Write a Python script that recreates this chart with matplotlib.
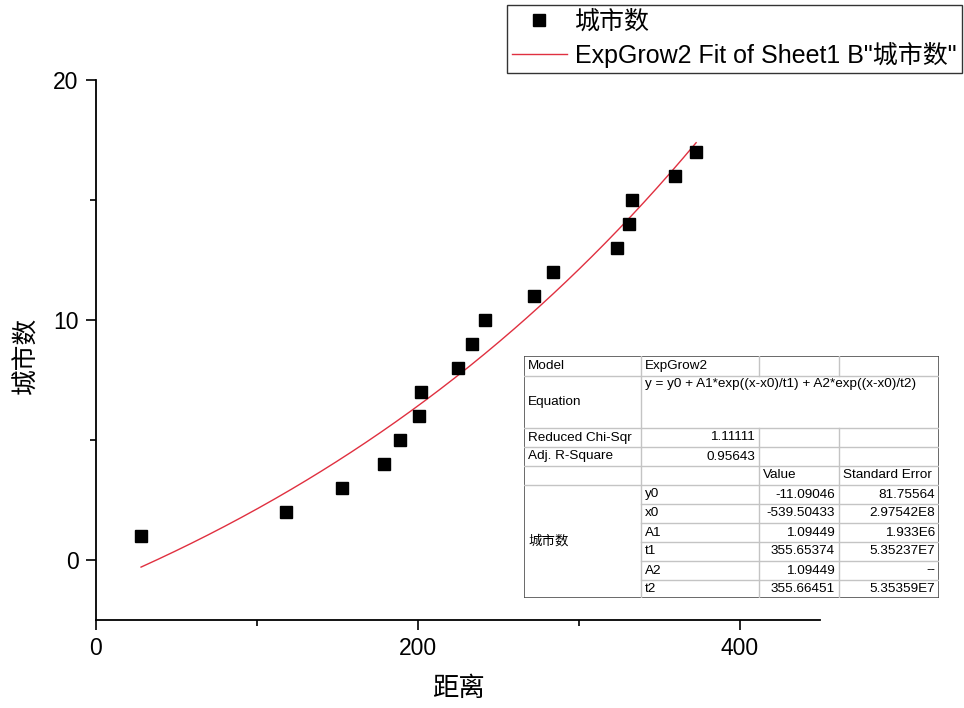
import numpy as np
import matplotlib
matplotlib.use("Agg")
import matplotlib.pyplot as plt
from matplotlib.ticker import MultipleLocator
from matplotlib.lines import Line2D

plt.rcParams["font.family"] = ["Liberation Sans", "Noto Sans CJK SC", "DejaVu Sans"]

# Distance vs. number of cities
distance = [28, 118, 153, 179, 189, 201, 202, 225, 234, 242,
            272, 284, 324, 331, 333, 360, 373]
city_count = [1, 2, 3, 4, 5, 6, 7, 8, 9, 10,
              11, 12, 13, 14, 15, 16, 17]

# ExpGrow2 fit results
param_names = ["y0", "x0", "A1", "t1", "A2", "t2"]
param_values = [-11.09046, -539.50433, 1.09449, 355.65374, 1.09449, 355.66451]
param_errors = ["81.75564", "2.97542E8", "1.933E6", "5.35237E7", "--", "5.35359E7"]
red_chi_sqr = "1.11111"
adj_r_square = "0.95643"
equation = "y = y0 + A1*exp((x-x0)/t1) + A2*exp((x-x0)/t2)"

x_label = "距离"
y_label = "城市数"
series_name = "城市数"
fit_name = 'ExpGrow2 Fit of Sheet1 B"城市数"'


def expgrow2(x, y0, x0, A1, t1, A2, t2):
    return y0 + A1 * np.exp((x - x0) / t1) + A2 * np.exp((x - x0) / t2)


fig = plt.figure(figsize=(9.64, 7.08), dpi=100)
W, H = 964, 708
ax = fig.add_axes([96 / W, 1 - 620 / H, 724 / W, 540 / H])

ax.plot(distance, city_count, "s", color="black", markersize=9, zorder=3)
xfit = np.linspace(min(distance), max(distance), 300)
ax.plot(xfit, expgrow2(xfit, *param_values), color="#e03040", linewidth=1.0)

ax.set_xlim(0, 450)
ax.set_ylim(-2.5, 20)
ax.xaxis.set_major_locator(MultipleLocator(200))
ax.xaxis.set_minor_locator(MultipleLocator(100))
ax.yaxis.set_major_locator(MultipleLocator(10))
ax.yaxis.set_minor_locator(MultipleLocator(5))
for side in ("top", "right"):
    ax.spines[side].set_visible(False)
for side in ("left", "bottom"):
    ax.spines[side].set_linewidth(1.3)
ax.tick_params(which="major", direction="out", length=7.5, width=1.2, labelsize=16.5, pad=5)
ax.tick_params(which="minor", direction="out", length=4.5, width=1.2)

ax.set_xlabel(x_label, fontsize=19)
ax.xaxis.set_label_coords(0.5, -0.105)
ax.set_ylabel(y_label, fontsize=18.5)
ax.yaxis.set_label_coords(-0.08, 0.49)

# Legend above the plot area
handles = [Line2D([], [], linestyle="none", marker="s", color="black", markersize=8),
           Line2D([], [], color="#e03040", linewidth=1.0)]
leg = fig.legend(handles, [series_name, fit_name], loc="upper right",
                 bbox_to_anchor=(962 / W, 1 - 5 / H), bbox_transform=fig.transFigure,
                 fontsize=18, frameon=True, fancybox=False, edgecolor="black",
                 handlelength=2.2, handletextpad=0.35, labelspacing=0.3,
                 borderpad=0.2, borderaxespad=0)
leg.get_frame().set_linewidth(1.0)

# Fit results table
col_edges = [0, 117, 235, 315, 415]
row_edges = [0, 20, 72, 91, 110, 129, 148, 167, 186, 205, 224, 242]
tab = fig.add_axes([524 / W, 1 - 598 / H, 415 / W, 242 / H])
tab.set_xlim(0, 415)
tab.set_ylim(242, 0)
tab.axis("off")
tab.add_patch(plt.Rectangle((0, 0), 415, 242, facecolor="white", edgecolor="none"))

grid_kw = dict(color="#c4c4c4", linewidth=1.0)
# horizontal lines
for i, y in enumerate(row_edges[1:-1], start=1):
    x_start = col_edges[1] if 6 <= i <= 10 else 0
    tab.plot([x_start, 415], [y, y], **grid_kw)
# vertical lines
tab.plot([col_edges[1]] * 2, [0, 242], **grid_kw)
for xc in col_edges[2:4]:
    tab.plot([xc, xc], [0, row_edges[1]], **grid_kw)
    tab.plot([xc, xc], [row_edges[2], 242], **grid_kw)
tab.add_patch(plt.Rectangle((0, 0), 415, 242, facecolor="none",
                            edgecolor="#505050", linewidth=1.2))

fs = 9.7


def cell_text(col, row, s, align="left"):
    yc = (row_edges[row] + row_edges[row + 1]) / 2
    if align == "left":
        tab.text(col_edges[col] + 4, yc, s, ha="left", va="center", fontsize=fs)
    else:
        tab.text(col_edges[col + 1] - 4, yc, s, ha="right", va="center", fontsize=fs)


cell_text(0, 0, "Model")
cell_text(1, 0, "ExpGrow2")
cell_text(0, 1, "Equation")
tab.text(col_edges[1] + 4, row_edges[1] + 8, equation, ha="left", va="center", fontsize=fs)
cell_text(0, 2, "Reduced Chi-Sqr")
cell_text(1, 2, red_chi_sqr, align="right")
cell_text(0, 3, "Adj. R-Square")
cell_text(1, 3, adj_r_square, align="right")
cell_text(2, 4, "Value")
cell_text(3, 4, "Standard Error")
tab.text(4, (row_edges[5] + row_edges[11]) / 2, series_name, ha="left", va="center", fontsize=fs)
for k, (name, val, err) in enumerate(zip(param_names, param_values, param_errors)):
    cell_text(1, 5 + k, name)
    cell_text(2, 5 + k, f"{val:.5f}", align="right")
    cell_text(3, 5 + k, err, align="right")

fig.savefig("out.png", dpi=100)
